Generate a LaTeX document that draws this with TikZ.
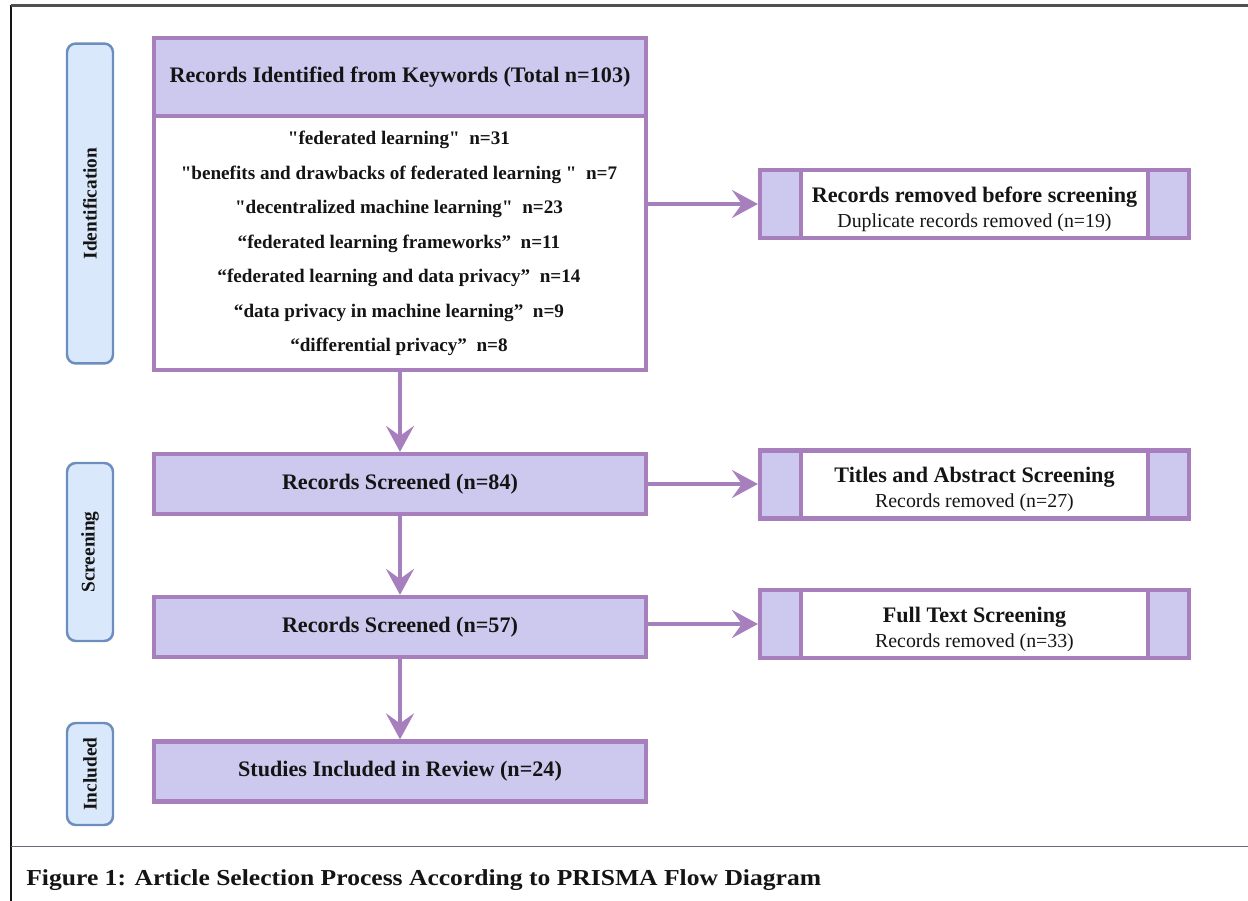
\documentclass[tikz,border=0pt]{standalone}
\usepackage{fontspec}
\usepackage{xcolor}
\usepackage{tikz}
\usetikzlibrary{arrows.meta}
\setmainfont{Liberation Serif}
\newfontfamily\capfont{Liberation Serif}[FakeStretch=1.12]
\definecolor{prsmpurple}{RGB}{166,127,188}
\definecolor{prsmfill}{RGB}{205,201,238}
\definecolor{prsmblue}{RGB}{108,142,191}
\definecolor{prsmsky}{RGB}{218,232,252}
\definecolor{prsmink}{RGB}{20,20,20}
\definecolor{prsmframe}{RGB}{80,80,80}
\definecolor{prsmrule}{RGB}{105,105,128}
\newcommand{\sq}{\textquotedbl}
\newcommand{\sidetitle}{\fontsize{12.6}{15}\selectfont\bfseries\rule{0pt}{14.6pt}}
\tikzset{
    stagebox/.style={draw=prsmpurple, line width=2.4pt, fill=prsmfill, minimum width=9.84cm,
        minimum height=1.2cm, inner sep=0pt, text=prsmink, font=\fontsize{12.6}{15}\selectfont\bfseries},
    keybox/.style={stagebox, fill=white},
    keyline/.style={text=prsmink, inner sep=0pt, font=\fontsize{10.9}{13}\selectfont\bfseries},
    sidebox/.style={draw=prsmpurple, line width=2.4pt, fill=white, minimum width=8.58cm,
        minimum height=1.36cm, inner sep=0pt, align=center, text=prsmink,
        font=\fontsize{11.3}{14}\selectfont,
        path picture={
            \fill[prsmfill] (path picture bounding box.north west) rectangle ([xshift=0.82cm]path picture bounding box.south west);
            \fill[prsmfill] (path picture bounding box.north east) rectangle ([xshift=-0.82cm]path picture bounding box.south east);
            \draw[prsmpurple, line width=2.4pt] ([xshift=0.82cm]path picture bounding box.north west) -- ([xshift=0.82cm]path picture bounding box.south west);
            \draw[prsmpurple, line width=2.4pt] ([xshift=-0.82cm]path picture bounding box.north east) -- ([xshift=-0.82cm]path picture bounding box.south east);
        }},
    phase/.style={draw=prsmblue, line width=1.4pt, fill=prsmsky, rounded corners=5pt,
        minimum height=0.92cm, inner sep=0pt, text=prsmink, font=\fontsize{11}{13}\selectfont\bfseries},
    flow/.style={draw=prsmpurple, line width=2.2pt, -{Stealth[length=0.52cm, width=0.56cm, inset=0.2cm]}},
}

\begin{document}
\begin{tikzpicture}[x=0.02cm, y=-0.02cm]
    % Canvas and frame
    \useasboundingbox (0,0) rectangle (1248,901);
    \draw[prsmink, line width=0.8pt] (11,5) -- (11,901);
    \draw[prsmframe, line width=1.2pt] (11,5.5) -- (1248,5.5);
    \draw[prsmrule, line width=1pt] (11,846.5) -- (1248,846.5);

    % Phase labels
    \node[phase, minimum width=6.4cm, rotate=90] (idn) at (90,203.5) {Identification};
    \node[phase, minimum width=3.56cm, rotate=90] (scr) at (90,552) {Screening};
    \node[phase, minimum width=2.04cm, rotate=90] (inc) at (90,774) {Included};

    % Main column
    \node[stagebox, minimum height=1.56cm] (kwhead) at (400,77) {Records Identified from Keywords (Total n=103)};
    \node[keybox, minimum height=5.08cm] (kwlist) at (400,243) {};
    \foreach \kwtext [count=\i] in {
        {\sq federated learning\sq\enspace n=31},
        {\sq benefits and drawbacks of federated learning \sq\enspace n=7},
        {\sq decentralized machine learning\sq\enspace n=23},
        {“federated learning frameworks”\enspace n=11},
        {“federated learning and data privacy”\enspace n=14},
        {“data privacy in machine learning”\enspace n=9},
        {“differential privacy”\enspace n=8}} {
        \node[keyline] (kw\i) at (399,{140+34.5*(\i-1)}) {\kwtext};
    }
    \node[stagebox] (scr84) at (400,484) {Records Screened (n=84)};
    \node[stagebox] (scr57) at (400,627) {Records Screened (n=57)};
    \node[stagebox] (incl) at (400,771.5) {Studies Included in Review (n=24)};

    % Exclusions
    \node[sidebox] (dup) at (974.5,204) {{\sidetitle Records removed before screening}\\Duplicate records removed (n=19)};
    \node[sidebox] (tiab) at (974.5,484.5) {{\sidetitle Titles and Abstract Screening}\\Records removed (n=27)};
    \node[sidebox] (full) at (974.5,624) {{\sidetitle Full Text Screening}\\Records removed (n=33)};

    % Connections
    \draw[flow] (kwlist) -- (scr84);
    \draw[flow] (scr84) -- (scr57);
    \draw[flow] (scr57) -- (incl);
    \draw[flow] (kwlist.east |- dup.west) -- (dup.west);
    \draw[flow] (scr84.east) -- (tiab.west |- scr84.east);
    \draw[flow] (scr57.east |- full.west) -- (full.west);

    % Caption
    \node[anchor=base west, inner sep=0pt, text=prsmink, font=\capfont\fontsize{13}{15}\selectfont\bfseries]
        (caption) at (26,886) {Figure 1: Article Selection Process According to PRISMA Flow Diagram};
\end{tikzpicture}
\end{document}
